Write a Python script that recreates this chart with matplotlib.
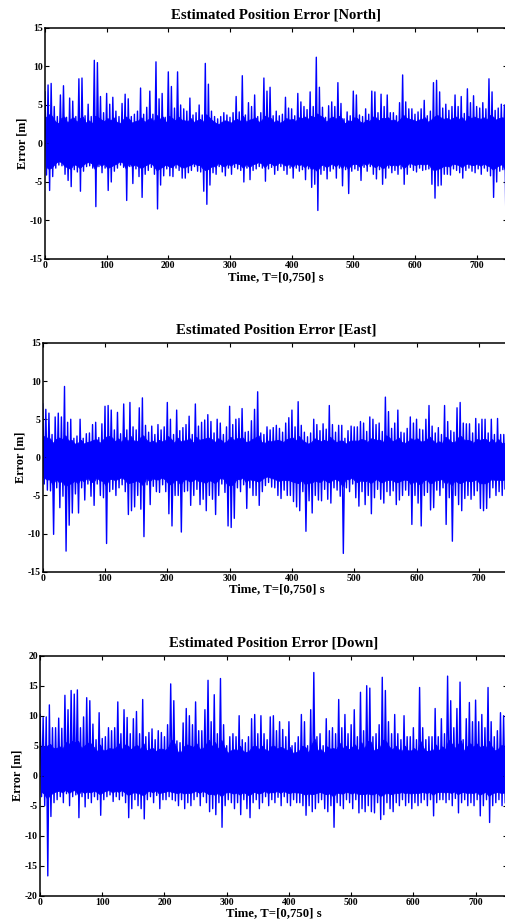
import numpy as np
import matplotlib
matplotlib.use("Agg")
import matplotlib.pyplot as plt

plt.rcParams['font.family'] = ['Liberation Serif', 'DejaVu Serif']
plt.rcParams['axes.unicode_minus'] = False

# time bins (s), 5 s each
time = np.arange(0, 750, 5)

# ---- North: per-bin maximum / minimum ----
north_hi = [6.7, 7.6, 7.8, 4.8, 3.5, 6.3, 7.5, 3.4, 5.9, 5.5,
            3.5, 8.4, 8.5, 3.6, 5.1, 3.5, 10.8, 10.5, 6.1, 4.0,
            6.5, 5.1, 6.0, 4.2, 3.5, 5.2, 6.4, 5.8, 3.5, 3.8,
            4.2, 7.2, 3.8, 4.7, 6.8, 3.8, 10.6, 5.8, 6.5, 3.4,
            9.3, 7.4, 4.6, 9.3, 5.0, 4.5, 4.2, 5.9, 3.7, 4.0,
            5.0, 3.7, 10.4, 7.7, 4.2, 3.5, 3.2, 3.5, 4.0, 3.7,
            3.4, 4.0, 6.1, 4.1, 8.8, 3.7, 5.3, 4.8, 6.3, 3.5,
            4.0, 8.5, 6.8, 7.3, 3.6, 4.2, 3.6, 3.8, 6.0, 4.6,
            4.5, 3.6, 6.5, 5.4, 4.8, 4.4, 6.7, 4.8, 11.2, 7.3,
            4.7, 3.4, 4.9, 5.4, 4.8, 7.9, 5.2, 3.2, 4.1, 3.6,
            6.8, 6.3, 3.7, 3.5, 4.5, 3.8, 6.8, 6.7, 4.0, 6.4,
            4.8, 6.3, 4.0, 4.0, 3.6, 5.3, 8.9, 5.4, 4.5, 4.5,
            3.8, 4.1, 4.5, 5.6, 3.6, 4.2, 7.9, 8.2, 6.7, 4.6,
            5.1, 4.3, 4.8, 6.3, 4.8, 6.1, 3.9, 7.1, 5.3, 6.2,
            4.8, 4.6, 5.3, 4.5, 8.4, 6.7, 4.3, 4.6, 5.1, 5.0]
north_lo = [-4.1, -6.1, -4.3, -3.2, -2.8, -2.9, -4.0, -4.8, -5.6, -3.4,
            -3.7, -6.2, -3.6, -3.0, -2.9, -3.2, -8.2, -3.0, -3.8, -3.2,
            -6.1, -5.0, -3.6, -3.2, -2.8, -3.1, -7.4, -3.0, -5.2, -3.3,
            -4.3, -7.0, -4.0, -3.5, -3.1, -4.0, -8.5, -5.4, -4.2, -3.3,
            -4.2, -4.3, -3.2, -3.5, -4.5, -4.5, -3.8, -3.5, -3.0, -3.6,
            -3.7, -6.2, -7.9, -5.4, -3.8, -4.0, -3.0, -3.7, -4.2, -3.2,
            -4.0, -3.1, -3.3, -3.5, -5.0, -3.2, -4.7, -3.5, -3.3, -3.0,
            -3.2, -4.9, -3.3, -3.1, -4.0, -3.5, -3.0, -3.5, -4.0, -3.2,
            -4.5, -3.2, -3.6, -3.4, -4.7, -3.3, -5.7, -5.3, -8.7, -4.0,
            -3.5, -4.6, -3.6, -3.3, -4.5, -3.2, -5.5, -3.4, -6.5, -3.6,
            -3.3, -3.5, -4.8, -3.1, -3.6, -3.0, -4.0, -4.6, -3.4, -5.3,
            -4.5, -3.2, -3.8, -3.5, -4.0, -3.3, -5.3, -4.0, -3.1, -3.5,
            -3.7, -3.2, -3.5, -3.4, -3.3, -5.3, -7.1, -5.5, -5.4, -4.0,
            -4.0, -4.1, -3.3, -3.5, -3.8, -4.5, -3.5, -3.2, -3.6, -3.8,
            -3.3, -4.0, -3.2, -3.6, -4.2, -7.0, -5.0, -3.6, -3.4, -10.5]
# edges of the dense (solid) part of the trace
north_core_hi = [3.4, 3.8, 3.6, 2.9, 2.6, 3.3, 3.5, 2.7, 3.2, 3.4,
                 2.8, 3.3, 3.5, 2.7, 3.0, 2.6, 3.6, 3.4, 3.1, 2.9,
                 3.3, 3.0, 3.4, 2.8, 2.6, 3.1, 3.5, 3.2, 2.7, 2.9,
                 3.0, 3.4, 2.8, 3.1, 3.3, 2.9, 3.7, 3.2, 3.5, 2.7,
                 3.6, 3.3, 3.0, 3.5, 3.1, 3.0, 2.9, 3.3, 2.8, 3.0,
                 3.2, 2.8, 3.8, 3.4, 3.0, 2.7, 2.5, 2.8, 3.0, 2.9,
                 2.7, 3.0, 3.2, 2.9, 3.6, 2.8, 3.1, 3.2, 3.4, 2.8,
                 3.0, 3.6, 3.4, 3.3, 2.8, 3.0, 2.7, 2.9, 3.3, 3.1,
                 3.2, 2.9, 3.4, 3.3, 3.5, 3.2, 3.6, 3.4, 3.9, 3.6,
                 3.4, 2.8, 3.3, 3.5, 3.2, 3.6, 3.3, 2.6, 3.0, 2.9,
                 3.4, 3.3, 2.8, 2.7, 3.1, 2.9, 3.5, 3.4, 3.0, 3.3,
                 3.3, 3.4, 3.0, 3.1, 2.8, 3.2, 3.7, 3.3, 3.2, 3.1,
                 2.9, 3.1, 3.2, 3.4, 2.8, 3.1, 3.5, 3.7, 3.4, 3.2,
                 3.3, 3.1, 3.3, 3.5, 3.2, 3.4, 2.9, 3.6, 3.3, 3.5,
                 3.3, 3.2, 3.4, 3.1, 3.7, 3.5, 3.1, 3.3, 3.4, 3.3]
north_core_lo = [-3.0, -3.3, -3.1, -2.6, -2.3, -2.4, -2.9, -3.1, -3.3, -2.7,
                 -2.8, -3.2, -2.8, -2.5, -2.4, -2.6, -3.4, -2.5, -2.9, -2.6,
                 -3.2, -3.0, -2.8, -2.6, -2.3, -2.5, -3.3, -2.5, -3.0, -2.7,
                 -3.0, -3.2, -2.9, -2.7, -2.5, -2.9, -3.5, -3.2, -3.0, -2.7,
                 -3.0, -3.1, -2.6, -2.8, -3.1, -3.1, -2.9, -2.8, -2.5, -2.8,
                 -2.8, -3.3, -3.5, -3.2, -2.9, -3.0, -2.5, -2.8, -3.0, -2.6,
                 -2.9, -2.5, -2.6, -2.7, -3.2, -2.6, -3.1, -2.7, -2.6, -2.4,
                 -2.6, -3.1, -2.6, -2.5, -2.9, -2.7, -2.4, -2.7, -2.9, -2.6,
                 -3.1, -2.6, -2.8, -2.7, -3.1, -2.7, -3.3, -3.2, -3.6, -2.9,
                 -2.7, -3.1, -2.8, -2.6, -3.0, -2.6, -3.2, -2.7, -3.3, -2.8,
                 -2.6, -2.7, -3.1, -2.5, -2.8, -2.4, -2.9, -3.1, -2.7, -3.2,
                 -3.1, -2.6, -2.9, -2.7, -2.9, -2.6, -3.2, -2.9, -2.5, -2.7,
                 -2.8, -2.6, -2.7, -2.7, -2.6, -3.2, -3.5, -3.3, -3.2, -2.9,
                 -2.9, -3.0, -2.6, -2.7, -2.8, -3.1, -2.7, -2.6, -2.8, -2.8,
                 -2.6, -2.9, -2.6, -2.8, -3.0, -3.4, -3.1, -2.8, -2.7, -3.5]

# ---- East ----
east_hi = [7.0, 6.3, 5.8, 3.0, 5.3, 5.8, 5.3, 9.3, 4.6, 5.0,
           2.5, 2.8, 5.0, 2.5, 3.1, 3.2, 4.3, 4.6, 2.6, 4.4,
           6.7, 6.8, 6.2, 3.6, 5.9, 3.1, 7.0, 3.6, 7.2, 4.0,
           3.6, 6.5, 7.8, 4.2, 3.3, 4.1, 3.0, 4.3, 3.6, 4.0,
           7.2, 5.0, 3.0, 6.2, 3.5, 3.9, 4.3, 5.4, 3.0, 7.0,
           4.1, 4.6, 4.9, 5.6, 4.7, 3.2, 5.0, 4.5, 3.0, 4.0,
           6.7, 4.3, 5.0, 5.1, 6.4, 3.3, 3.4, 4.8, 6.3, 8.6,
           3.2, 3.0, 4.0, 3.6, 3.9, 4.2, 3.8, 3.3, 4.5, 5.2,
           6.2, 4.0, 7.3, 4.2, 3.3, 2.7, 3.2, 5.0, 4.3, 3.5,
           4.4, 3.7, 6.8, 4.3, 3.3, 4.2, 4.2, 2.5, 3.5, 4.1,
           4.0, 4.0, 4.7, 4.5, 3.4, 5.3, 5.0, 4.3, 4.5, 3.4,
           7.9, 6.0, 3.8, 4.5, 6.2, 3.3, 3.2, 3.8, 5.3, 4.5,
           5.0, 3.7, 3.6, 5.0, 6.8, 4.1, 3.2, 3.9, 3.0, 6.8,
           4.7, 3.5, 3.3, 6.5, 7.2, 4.5, 4.4, 4.4, 3.2, 5.1,
           4.4, 5.0, 5.0, 3.2, 5.0, 3.0, 5.1, 3.0, 3.0, 2.8]
east_lo = [-3.5, -4.3, -4.4, -10.1, -4.0, -6.6, -5.1, -12.3, -8.9, -7.3,
           -4.8, -7.3, -4.0, -5.6, -3.5, -5.1, -6.3, -3.5, -5.0, -5.3,
           -11.3, -4.5, -4.2, -5.0, -4.0, -3.6, -4.5, -7.5, -7.0, -6.5,
           -5.0, -6.8, -10.4, -3.6, -6.2, -3.8, -4.5, -4.6, -3.6, -4.5,
           -7.4, -9.0, -5.0, -5.0, -9.8, -4.5, -4.4, -6.3, -5.0, -4.2,
           -6.2, -5.5, -7.0, -5.0, -5.5, -7.5, -5.0, -3.5, -4.6, -9.0,
           -9.2, -8.0, -4.0, -4.5, -3.6, -6.7, -4.0, -5.0, -5.0, -6.3,
           -4.5, -3.7, -3.3, -3.9, -4.0, -5.0, -5.4, -4.3, -5.0, -5.0,
           -5.8, -6.5, -7.0, -4.5, -9.7, -5.7, -7.3, -5.0, -5.6, -5.7,
           -4.2, -5.5, -6.0, -4.0, -4.3, -5.1, -12.6, -4.0, -4.5, -3.5,
           -5.3, -6.4, -4.5, -6.2, -5.0, -7.4, -5.3, -4.2, -5.5, -6.0,
           -4.5, -5.0, -4.4, -6.2, -5.6, -5.0, -4.3, -5.0, -8.8, -5.0,
           -6.0, -9.0, -5.0, -4.6, -6.9, -6.6, -4.3, -5.0, -4.0, -8.8,
           -5.3, -11.0, -5.0, -6.2, -7.0, -5.4, -5.0, -5.5, -5.0, -4.4,
           -6.7, -7.0, -6.7, -5.3, -4.0, -5.0, -4.5, -5.0, -4.2, -3.8]
east_core_hi = [2.8, 2.6, 2.5, 1.9, 2.4, 2.6, 2.4, 2.9, 2.2, 2.3,
                1.8, 1.9, 2.3, 1.8, 2.0, 2.1, 2.3, 2.4, 1.9, 2.3,
                2.7, 2.8, 2.6, 2.1, 2.5, 2.0, 2.7, 2.1, 2.8, 2.2,
                2.1, 2.6, 2.9, 2.3, 2.0, 2.2, 1.9, 2.3, 2.1, 2.2,
                2.8, 2.4, 1.9, 2.6, 2.1, 2.2, 2.3, 2.5, 1.9, 2.7,
                2.3, 2.4, 2.5, 2.6, 2.4, 2.0, 2.5, 2.3, 1.9, 2.2,
                2.7, 2.3, 2.5, 2.5, 2.6, 2.0, 2.1, 2.4, 2.6, 2.9,
                2.0, 1.9, 2.2, 2.1, 2.2, 2.3, 2.2, 2.0, 2.4, 2.5,
                2.6, 2.2, 2.8, 2.3, 2.0, 1.8, 2.0, 2.5, 2.3, 2.1,
                2.3, 2.1, 2.7, 2.3, 2.0, 2.2, 2.2, 1.8, 2.1, 2.2,
                2.2, 2.2, 2.4, 2.3, 2.0, 2.5, 2.4, 2.3, 2.3, 2.0,
                2.9, 2.6, 2.1, 2.3, 2.6, 2.0, 1.9, 2.1, 2.5, 2.3,
                2.5, 2.1, 2.1, 2.4, 2.7, 2.2, 1.9, 2.1, 1.9, 2.7,
                2.4, 2.0, 2.0, 2.6, 2.8, 2.3, 2.3, 2.2, 1.9, 2.4,
                2.3, 2.4, 2.4, 2.0, 2.4, 1.9, 2.4, 1.9, 1.9, 1.8]
east_core_lo = [-2.6, -2.9, -2.9, -3.6, -2.8, -3.3, -3.1, -3.8, -3.5, -3.4,
                -3.0, -3.4, -2.8, -3.2, -2.6, -3.1, -3.3, -2.6, -3.0, -3.1,
                -3.7, -2.9, -2.8, -3.0, -2.8, -2.6, -2.9, -3.4, -3.3, -3.2,
                -3.0, -3.3, -3.7, -2.6, -3.2, -2.7, -2.9, -2.9, -2.6, -2.9,
                -3.4, -3.6, -3.0, -3.0, -3.6, -2.9, -2.9, -3.2, -3.0, -2.8,
                -3.2, -3.1, -3.4, -3.0, -3.1, -3.4, -3.0, -2.6, -2.9, -3.6,
                -3.7, -3.5, -2.8, -2.9, -2.6, -3.3, -2.8, -3.0, -3.0, -3.2,
                -2.9, -2.6, -2.5, -2.7, -2.8, -3.0, -3.1, -2.9, -3.0, -3.0,
                -3.2, -3.3, -3.4, -2.9, -3.6, -3.2, -3.4, -3.0, -3.2, -3.2,
                -2.8, -3.2, -3.3, -2.8, -2.9, -3.1, -3.8, -2.8, -2.9, -2.6,
                -3.1, -3.3, -2.9, -3.2, -3.0, -3.4, -3.1, -2.8, -3.2, -3.3,
                -2.9, -3.0, -2.9, -3.3, -3.2, -3.0, -2.9, -3.0, -3.6, -3.0,
                -3.3, -3.6, -3.0, -2.9, -3.4, -3.3, -2.9, -3.0, -2.8, -3.5,
                -3.1, -3.7, -3.0, -3.3, -3.4, -3.1, -3.0, -3.2, -3.0, -2.9,
                -3.4, -3.4, -3.4, -3.1, -2.8, -3.0, -2.9, -3.0, -2.9, -2.7]

# ---- Down ----
down_hi = [10.2, 9.7, 9.8, 11.8, 8.0, 8.0, 9.6, 7.9, 13.4, 11.0,
           14.2, 13.6, 14.3, 8.0, 9.8, 13.0, 12.5, 8.6, 6.0, 10.5,
           6.2, 6.5, 8.0, 7.5, 8.0, 12.3, 7.0, 11.0, 9.7, 7.0,
           9.5, 10.7, 7.0, 12.7, 6.5, 7.2, 7.8, 6.0, 7.5, 7.2,
           6.5, 8.5, 15.3, 12.5, 5.8, 5.5, 8.8, 11.2, 10.0, 8.5,
           12.3, 7.5, 7.5, 11.0, 15.9, 9.0, 13.5, 7.0, 16.2, 8.5,
           5.0, 6.5, 7.0, 6.5, 10.0, 6.0, 5.5, 6.5, 9.5, 10.2,
           7.0, 10.0, 7.0, 6.0, 9.8, 10.0, 7.5, 9.0, 7.7, 6.5,
           9.0, 5.0, 5.5, 6.5, 10.2, 9.0, 5.0, 11.0, 17.2, 6.5,
           7.0, 5.0, 9.5, 7.5, 8.0, 7.0, 12.7, 8.0, 10.2, 7.0,
           8.5, 11.0, 6.5, 13.9, 7.5, 15.0, 14.6, 6.5, 7.0, 8.5,
           16.4, 14.2, 9.0, 7.0, 10.2, 7.0, 6.0, 10.0, 6.5, 6.5,
           8.0, 6.0, 14.7, 8.0, 6.0, 6.5, 6.5, 11.2, 6.5, 9.5,
           7.0, 16.6, 12.5, 8.0, 11.2, 15.6, 6.0, 9.5, 12.2, 9.0,
           12.6, 9.0, 10.2, 8.0, 14.7, 9.0, 6.5, 7.5, 10.5, 10.0]
down_lo = [-3.5, -5.0, -16.7, -6.8, -4.5, -4.0, -3.5, -4.5, -3.0, -5.0,
           -3.5, -3.2, -7.0, -3.5, -5.2, -3.8, -4.5, -3.5, -4.0, -6.6,
           -4.0, -3.5, -3.2, -4.3, -3.5, -4.0, -3.4, -4.5, -7.0, -5.5,
           -4.0, -5.0, -5.5, -7.2, -4.0, -3.5, -4.5, -3.3, -5.5, -4.0,
           -4.0, -3.5, -4.0, -4.2, -5.0, -4.0, -5.5, -4.5, -5.0, -4.0,
           -3.5, -5.0, -3.5, -4.5, -6.0, -5.5, -6.5, -4.5, -8.6, -5.0,
           -4.0, -4.5, -5.5, -4.5, -6.5, -4.0, -5.5, -7.0, -4.5, -4.0,
           -5.5, -4.5, -3.5, -5.0, -4.0, -4.5, -3.6, -5.0, -3.5, -4.5,
           -5.0, -4.0, -4.5, -4.5, -5.0, -6.6, -5.0, -6.0, -5.5, -4.5,
           -4.0, -5.5, -6.0, -5.0, -8.6, -4.5, -5.0, -5.5, -4.0, -4.5,
           -5.5, -4.0, -6.2, -5.5, -6.0, -5.0, -6.0, -6.2, -4.5, -7.3,
           -6.5, -4.5, -5.5, -6.0, -4.5, -5.0, -4.0, -5.0, -4.5, -5.5,
           -4.5, -5.0, -4.5, -4.0, -5.0, -4.0, -6.7, -4.5, -4.0, -4.0,
           -4.5, -4.0, -5.0, -3.8, -6.2, -4.5, -4.0, -5.0, -4.5, -5.0,
           -4.0, -6.7, -5.0, -4.0, -7.8, -5.0, -4.5, -4.0, -5.0, -4.5]
down_core_hi = [5.0, 4.9, 5.0, 5.3, 4.6, 4.6, 4.9, 4.5, 5.6, 5.3,
                5.8, 5.6, 5.8, 4.6, 5.0, 5.5, 5.4, 4.8, 4.0, 5.2,
                4.2, 4.3, 4.6, 4.5, 4.6, 5.4, 4.4, 5.2, 5.0, 4.4,
                4.9, 5.1, 4.4, 5.4, 4.2, 4.5, 4.6, 4.1, 4.5, 4.5,
                4.3, 4.8, 6.0, 5.4, 4.0, 3.9, 4.9, 5.2, 5.0, 4.8,
                5.4, 4.5, 4.5, 5.2, 6.0, 4.9, 5.6, 4.4, 6.0, 4.8,
                3.8, 4.2, 4.4, 4.2, 5.0, 4.1, 3.9, 4.2, 4.9, 5.0,
                4.4, 5.0, 4.4, 4.1, 4.9, 5.0, 4.5, 4.8, 4.6, 4.2,
                4.8, 3.8, 3.9, 4.2, 5.0, 4.8, 3.8, 5.2, 6.2, 4.2,
                4.4, 3.8, 4.9, 4.5, 4.6, 4.4, 5.5, 4.6, 5.0, 4.4,
                4.8, 5.2, 4.2, 5.6, 4.5, 5.8, 5.7, 4.2, 4.4, 4.8,
                6.0, 5.7, 4.8, 4.4, 5.0, 4.4, 4.1, 5.0, 4.2, 4.2,
                4.6, 4.1, 5.8, 4.6, 4.1, 4.2, 4.2, 5.2, 4.2, 4.9,
                4.4, 6.0, 5.4, 4.6, 5.2, 5.9, 4.1, 4.9, 5.4, 4.8,
                5.4, 4.8, 5.0, 4.6, 5.8, 4.8, 4.2, 4.5, 5.1, 5.0]
down_core_lo = [-2.6, -3.0, -3.8, -3.2, -2.8, -2.6, -2.5, -2.8, -2.3, -2.9,
                -2.5, -2.4, -3.2, -2.5, -2.9, -2.6, -2.8, -2.5, -2.7, -3.1,
                -2.7, -2.5, -2.4, -2.8, -2.5, -2.7, -2.4, -2.8, -3.2, -3.0,
                -2.7, -2.9, -3.0, -3.3, -2.7, -2.5, -2.8, -2.4, -3.0, -2.7,
                -2.7, -2.5, -2.7, -2.8, -2.9, -2.7, -3.0, -2.8, -2.9, -2.7,
                -2.5, -2.9, -2.5, -2.8, -3.1, -3.0, -3.2, -2.8, -3.5, -2.9,
                -2.7, -2.8, -3.0, -2.8, -3.2, -2.7, -3.0, -3.3, -2.8, -2.7,
                -3.0, -2.8, -2.5, -2.9, -2.7, -2.8, -2.5, -2.9, -2.5, -2.8,
                -2.9, -2.7, -2.8, -2.8, -2.9, -3.2, -2.9, -3.1, -3.0, -2.8,
                -2.7, -3.0, -3.1, -2.9, -3.5, -2.8, -2.9, -3.0, -2.7, -2.8,
                -3.0, -2.7, -3.1, -3.0, -3.1, -2.9, -3.1, -3.1, -2.8, -3.4,
                -3.2, -2.8, -3.0, -3.1, -2.8, -2.9, -2.7, -2.9, -2.8, -3.0,
                -2.8, -2.9, -2.8, -2.7, -2.9, -2.7, -3.2, -2.8, -2.7, -2.7,
                -2.8, -2.7, -2.9, -2.6, -3.1, -2.8, -2.7, -2.9, -2.8, -2.9,
                -2.7, -3.2, -2.9, -2.7, -3.4, -2.9, -2.8, -2.7, -2.9, -2.8]

titles = ['Estimated Position Error [North]',
          'Estimated Position Error [East]',
          'Estimated Position Error [Down]']
xlabel = 'Time, T=[0,750] s'
ylabel = 'Error [m]'
xticks = [0, 100, 200, 300, 400, 500, 600, 700]
yticks_ne = [-15, -10, -5, 0, 5, 10, 15]
yticks_d = [-20, -15, -10, -5, 0, 5, 10, 15, 20]

fig = plt.figure(figsize=(5.06, 9.23), dpi=100)
positions = [[0.0889, 0.7194, 0.914, 0.2503],
             [0.0844, 0.3806, 0.9235, 0.2478],
             [0.0791, 0.0296, 0.9223, 0.2600]]
series = [(north_hi, north_lo, north_core_lo, north_core_hi, yticks_ne),
          (east_hi, east_lo, east_core_lo, east_core_hi, yticks_ne),
          (down_hi, down_lo, down_core_lo, down_core_hi, yticks_d)]
blue = (0, 0, 1)

for pos, (hi, lo, clo, chi, yt), title in zip(positions, series, titles):
    ax = fig.add_axes(pos)
    x = np.empty(2 * len(time))
    y = np.empty(2 * len(time))
    x[0::2] = time
    x[1::2] = time + 2.5
    y[0::2] = hi
    y[1::2] = lo
    ax.fill_between(time + 1.25, clo, chi, color=blue, linewidth=0.6,
                    edgecolor=blue)
    ax.plot(x, y, color=blue, linewidth=1.0)
    ax.set_xlim(0, 750)
    ax.set_ylim(yt[0], yt[-1])
    ax.set_xticks(xticks)
    ax.set_yticks(yt)
    ax.set_xticklabels([str(v) for v in xticks])
    ax.set_yticklabels([str(v) for v in yt])
    ax.tick_params(direction='in', top=True, right=True, length=3,
                   width=0.8, labelsize=7, pad=1.5)
    for lab in ax.get_xticklabels() + ax.get_yticklabels():
        lab.set_fontweight('bold')
    for sp in ax.spines.values():
        sp.set_linewidth(1.1)
    ax.set_title(title, fontsize=10.6, fontweight='bold', pad=6.5)
    ax.set_xlabel(xlabel, fontsize=9.2, fontweight='bold', labelpad=0.5)
    ax.set_ylabel(ylabel, fontsize=8.8, fontweight='bold', labelpad=1)

fig.savefig('out.png', dpi=100)
